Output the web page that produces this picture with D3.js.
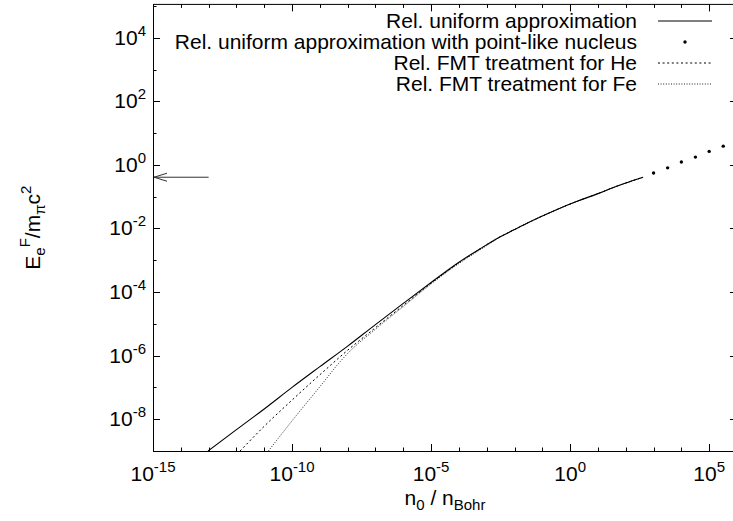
<!DOCTYPE html>
<html>
<head>
<meta charset="utf-8">
<script src="https://cdn.jsdelivr.net/npm/d3@7"></script>
<style>
  body { margin: 0; background: #fff; }
  svg { display: block; font-family: "Liberation Sans", Arial, Helvetica, sans-serif; }
</style>
</head>
<body>
<div id="chart"></div>
<script>
// values (n0/nBohr , Ee^F / m_pi c^2)
var uniformN = [9.5e-14, 1e-12, 1e-11, 1e-10, 1e-9, 1e-8, 1e-7, 1e-6, 1e-5, 1e-4, 5.8e-4, 3.2e-3, 9.1e-3, 3.2e-2, 0.145, 1, 2.3, 10, 36, 100, 420];
var uniformE = [1.0e-9, 4.7e-9, 2.1e-8, 1.0e-7, 4.5e-7, 2.0e-6, 9.5e-6, 4.4e-5, 2.0e-4, 8.7e-4, 2.3e-3, 5.6e-3, 8.9e-3, 1.55e-2, 2.85e-2, 5.9e-2, 7.8e-2, 0.125, 0.195, 0.27, 0.41];

var pointN = [1e3, 3.2e3, 1e4, 3.2e4, 1e5, 3.2e5];
var pointE = [0.56, 0.81, 1.23, 1.76, 2.66, 3.9];

var heN = [1.35e-12, 1e-11, 1e-10, 1e-9, 1e-8, 1e-7, 1e-6, 1e-5, 1e-4, 5.8e-4, 3.2e-3, 9.1e-3, 3.2e-2, 0.145, 1, 2.3, 10, 36, 100, 420];
var heE = [1.0e-9, 6.0e-9, 4.0e-8, 2.5e-7, 1.48e-6, 7.6e-6, 3.8e-5, 1.9e-4, 8.3e-4, 2.3e-3, 5.6e-3, 8.9e-3, 1.55e-2, 2.85e-2, 5.9e-2, 7.8e-2, 0.125, 0.195, 0.27, 0.41];

var feN = [1.41e-11, 1e-10, 1e-9, 5.4e-9, 1e-8, 1e-7, 1e-6, 1e-5, 1e-4, 1e-3, 3.2e-3, 9.1e-3, 3.2e-2, 0.145, 1, 2.3, 10, 36, 100, 420];
var feE = [1.0e-9, 8.9e-9, 1.05e-7, 6.5e-7, 1.17e-6, 6.8e-6, 3.5e-5, 1.8e-4, 7.9e-4, 2.9e-3, 5.6e-3, 8.9e-3, 1.55e-2, 2.85e-2, 5.9e-2, 7.8e-2, 0.125, 0.195, 0.27, 0.41];

var arrowE = 0.41;

var xMajor = [-15, -10, -5, 0, 5];
var yMajor = [-8, -6, -4, -2, 0, 2, 4];

var legendLabels = ["Rel. uniform approximation",
                    "Rel. uniform approximation with point-like nucleus",
                    "Rel. FMT treatment for He",
                    "Rel. FMT treatment for Fe"];

var W = 733, H = 521;
var plot = {left: 153, right: 737, top: 4.4, bottom: 451};

var svg = d3.select("#chart").append("svg")
  .attr("width", W).attr("height", H);

var x = d3.scaleLog().domain([1e-15, 1e6]).range([plot.left, plot.right]);
var y = d3.scaleLog().domain([1e-9, Math.pow(10, 5.05)]).range([plot.bottom, plot.top]);

svg.append("clipPath").attr("id", "clip")
  .append("rect")
  .attr("x", plot.left).attr("y", plot.top)
  .attr("width", plot.right - plot.left).attr("height", plot.bottom - plot.top);

// ticks (gnuplot style: inward, mirrored)
var gTicks = svg.append("g").attr("stroke", "#000").attr("stroke-width", 1);
d3.range(-15, 7).forEach(function(e){
  var px = Math.round(x(Math.pow(10, e))) + 0.5;
  var len = (e % 5 === 0) ? 7 : 3.5;
  gTicks.append("line").attr("x1", px).attr("x2", px).attr("y1", plot.bottom).attr("y2", plot.bottom - len);
  gTicks.append("line").attr("x1", px).attr("x2", px).attr("y1", plot.top).attr("y2", plot.top + len);
});
d3.range(-9, 6).forEach(function(e){
  var py = Math.round(y(Math.pow(10, e))) + 0.5;
  var len = (e % 2 === 0) ? 7 : 3.5;
  gTicks.append("line").attr("y1", py).attr("y2", py).attr("x1", plot.left).attr("x2", plot.left + len);
  gTicks.append("line").attr("y1", py).attr("y2", py).attr("x1", plot.right).attr("x2", plot.right - len);
});

// frame
svg.append("rect")
  .attr("x", plot.left + 0.5).attr("y", plot.top)
  .attr("width", plot.right - plot.left).attr("height", plot.bottom - plot.top + 0.5)
  .attr("fill", "none").attr("stroke", "#000").attr("stroke-width", 1);

// tick labels
var fs = 21, sfs = 15;
xMajor.forEach(function(e){
  var t = svg.append("text")
    .attr("x", x(Math.pow(10, e))).attr("y", 481)
    .attr("text-anchor", "middle").attr("font-size", fs);
  t.append("tspan").text("10");
  t.append("tspan").attr("dy", -9).attr("font-size", sfs).text(e);
});
yMajor.forEach(function(e){
  var t = svg.append("text")
    .attr("x", 146).attr("y", y(Math.pow(10, e)) + 7)
    .attr("text-anchor", "end").attr("font-size", fs);
  t.append("tspan").text("10");
  t.append("tspan").attr("dy", -9).attr("font-size", sfs).text(e);
});

// axis titles
var xl = svg.append("text")
  .attr("x", (plot.left + plot.right) / 2).attr("y", 505)
  .attr("text-anchor", "middle").attr("font-size", fs);
xl.append("tspan").text("n");
xl.append("tspan").attr("dy", 5).attr("font-size", sfs).text("0");
xl.append("tspan").attr("dy", -5).text(" / n");
xl.append("tspan").attr("dy", 5).attr("font-size", sfs).text("Bohr");

var yl = svg.append("text")
  .attr("transform", "translate(40," + ((plot.top + plot.bottom) / 2) + ") rotate(-90)")
  .attr("text-anchor", "middle").attr("font-size", fs);
yl.append("tspan").text("E");
yl.append("tspan").attr("dy", 5).attr("font-size", sfs).text("e");
yl.append("tspan").attr("dy", -15).attr("font-size", sfs).text("F");
yl.append("tspan").attr("dy", 10).text("/m");
yl.append("tspan").attr("dy", 5).attr("font-size", sfs).text("\u03c0");
yl.append("tspan").attr("dy", -5).text("c");
yl.append("tspan").attr("dy", -9).attr("font-size", sfs).text("2");

// curves
var line = d3.line()
  .x(function(d){ return x(d[0]); })
  .y(function(d){ return y(d[1]); })
  .curve(d3.curveMonotoneX);

var gData = svg.append("g").attr("clip-path", "url(#clip)");

gData.append("path")
  .datum(d3.zip(feN, feE))
  .attr("d", line).attr("fill", "none")
  .attr("stroke", "#222").attr("stroke-width", 1)
  .attr("stroke-dasharray", "1,1.6");

gData.append("path")
  .datum(d3.zip(heN, heE))
  .attr("d", line).attr("fill", "none")
  .attr("stroke", "#000").attr("stroke-width", 1)
  .attr("stroke-dasharray", "2,2.6");

gData.append("path")
  .datum(d3.zip(uniformN, uniformE))
  .attr("d", line).attr("fill", "none")
  .attr("stroke", "#000").attr("stroke-width", 1.1);

gData.selectAll("circle.pt")
  .data(d3.zip(pointN, pointE)).enter()
  .append("circle").attr("class", "pt")
  .attr("cx", function(d){ return x(d[0]); })
  .attr("cy", function(d){ return y(d[1]); })
  .attr("r", 1.7).attr("fill", "#000");

// arrow pointing to the axis at the end value
var ay = y(arrowE), ax0 = x(1e-13), ax1 = x(1e-15) + 1;
var gArrow = svg.append("g").attr("stroke", "#333").attr("stroke-width", 1).attr("fill", "none");
gArrow.append("line").attr("x1", ax0).attr("y1", ay).attr("x2", ax1).attr("y2", ay);
gArrow.append("path").attr("d", "M" + (ax1 + 13) + "," + (ay - 4) + "L" + ax1 + "," + ay + "L" + (ax1 + 13) + "," + (ay + 4));

// key
var keyX = 637, s0 = 658, s1 = 712;
legendLabels.forEach(function(lbl, i){
  var cy = 21 + i * 21;
  svg.append("text").attr("x", keyX).attr("y", cy + 7)
    .attr("text-anchor", "end").attr("font-size", fs).text(lbl);
  if (i === 0) {
    svg.append("line").attr("x1", s0).attr("x2", s1).attr("y1", cy).attr("y2", cy)
      .attr("stroke", "#000").attr("stroke-width", 1.1);
  } else if (i === 1) {
    svg.append("circle").attr("cx", (s0 + s1) / 2).attr("cy", cy).attr("r", 1.7).attr("fill", "#000");
  } else if (i === 2) {
    svg.append("line").attr("x1", s0).attr("x2", s1).attr("y1", cy).attr("y2", cy)
      .attr("stroke", "#000").attr("stroke-width", 1).attr("stroke-dasharray", "2,2.6");
  } else {
    svg.append("line").attr("x1", s0).attr("x2", s1).attr("y1", cy).attr("y2", cy)
      .attr("stroke", "#222").attr("stroke-width", 1).attr("stroke-dasharray", "1,1.6");
  }
});
</script>
</body>
</html>
